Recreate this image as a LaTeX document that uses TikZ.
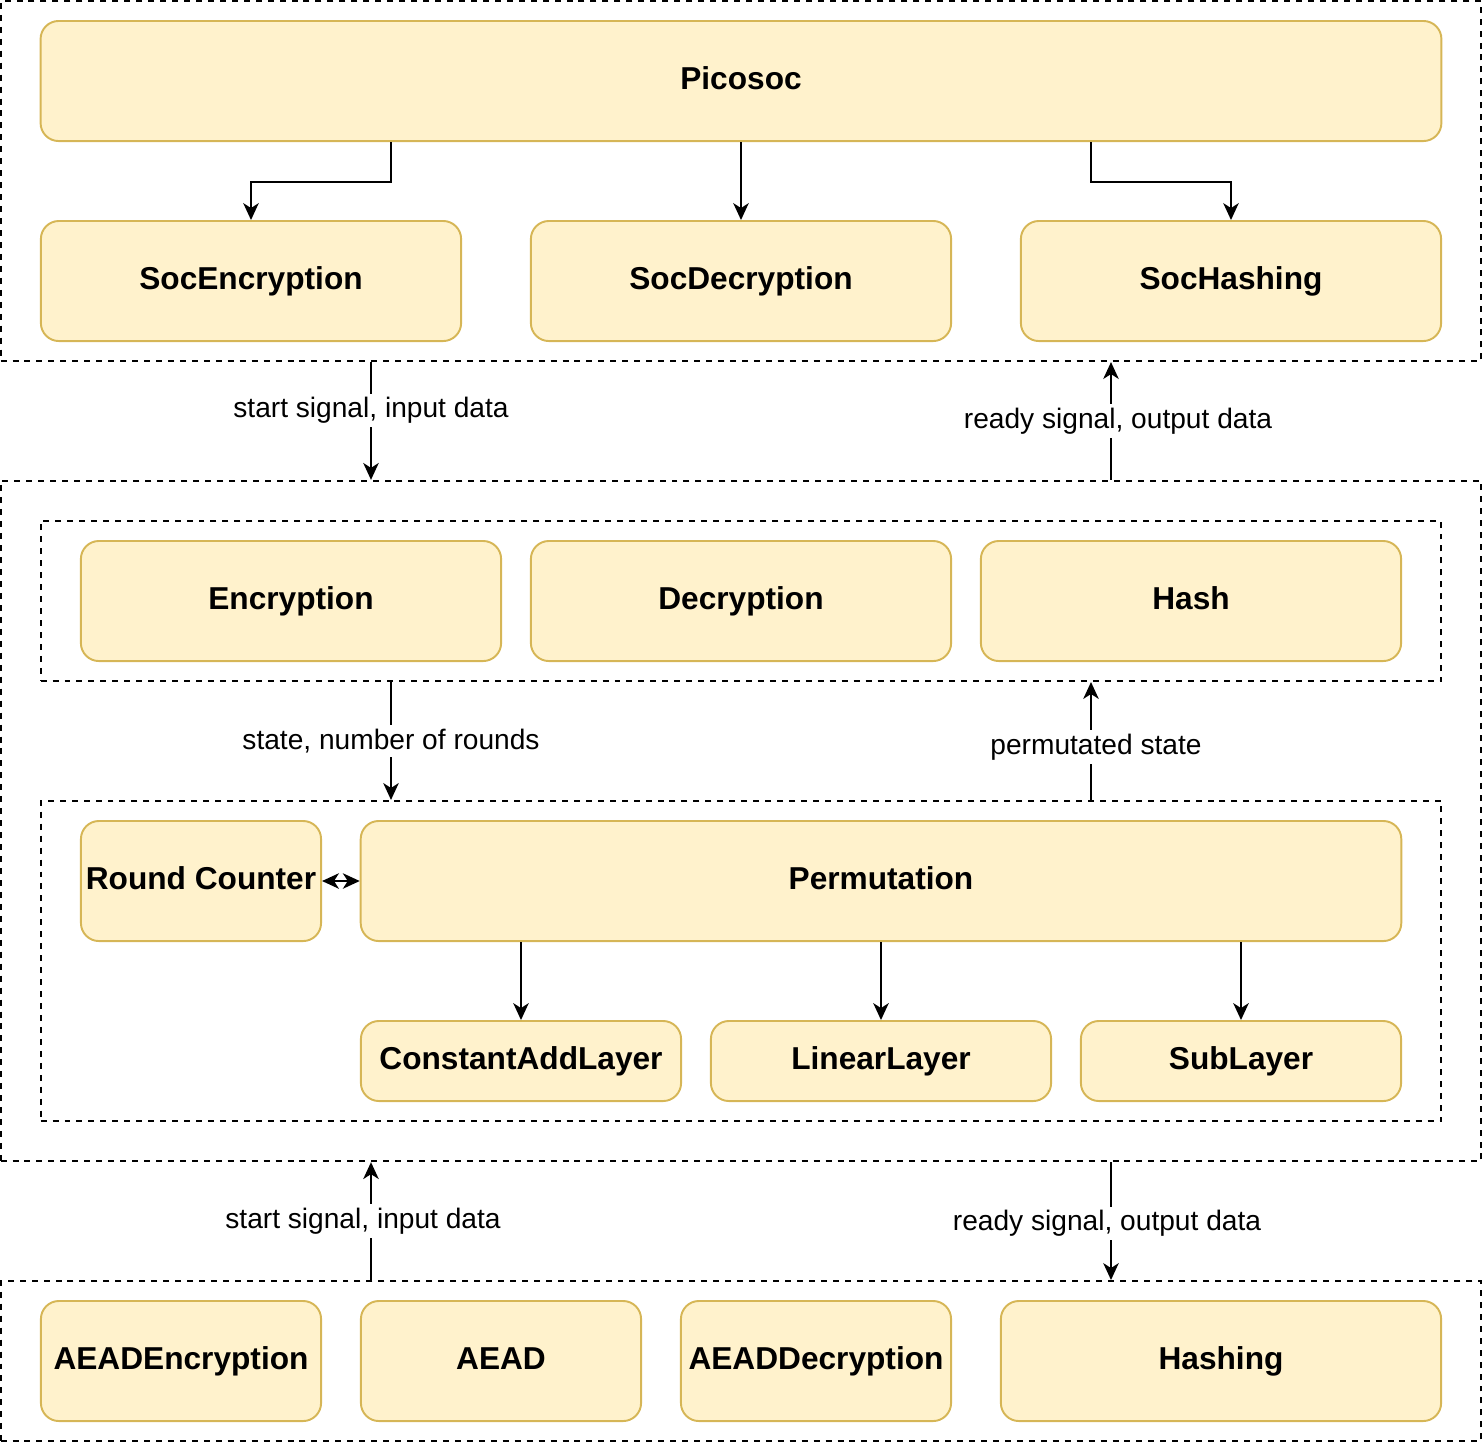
\documentclass[tikz,border=0pt]{standalone}
\usepackage{fontspec}
\setmainfont{Liberation Sans}
\usetikzlibrary{arrows.meta,positioning}
\definecolor{boxfill}{HTML}{FFF2CC}
\definecolor{boxline}{HTML}{D6B656}
\tikzset{
  blk/.style={
    draw = boxline,
    fill = boxfill,
    line width = 0.55pt,
    rounded corners = 0.18cm,
    inner sep = 0pt,
    minimum height = 1.2cm,
    text height = 0.72em,
    text depth = 0.21em,
    font = \bfseries\fontsize{9}{11}\selectfont
  },
  frm/.style={
    draw,
    line width = 0.55pt,
    dash pattern = on 1.7pt off 1.7pt,
    inner sep = 0pt
  },
  arr/.style={
    line width = 0.55pt,
    -{Stealth[length=4.8pt,width=4.4pt,inset=1.4pt]}
  },
  lbl/.style={
    fill = white,
    inner sep = 1pt,
    font = \fontsize{8}{10}\selectfont
  },
}
\begin{document}
\begin{tikzpicture}[x=0.01cm, y=-0.01cm]
 \useasboundingbox (0,0) rectangle (1484,1444);
 % dashed groups
 \node[frm, minimum width=14.8cm, minimum height=3.6cm] (socframe) at (741,181) {};
 \node[frm, minimum width=14.8cm, minimum height=6.8cm] (coreframe) at (741,821) {};
 \node[frm, minimum width=14cm, minimum height=1.6cm] (modeframe) at (741,601) {};
 \node[frm, minimum width=14cm, minimum height=3.2cm] (permframe) at (741,961) {};
 \node[frm, minimum width=14.8cm, minimum height=1.6cm] (aeadframe) at (741,1361) {};
 % soc
 \node[blk, minimum width=14cm] (pico) at (741,81) {Picosoc};
 \node[blk, minimum width=4.2cm] (socenc) at (251,281) {SocEncryption};
 \node[blk, minimum width=4.2cm] (socdec) at (741,281) {SocDecryption};
 \node[blk, minimum width=4.2cm] (sochash) at (1231,281) {SocHashing};
 % modes
 \node[blk, minimum width=4.2cm] (enc) at (291,601) {Encryption};
 \node[blk, minimum width=4.2cm] (dec) at (741,601) {Decryption};
 \node[blk, minimum width=4.2cm] (hash) at (1191,601) {Hash};
 % permutation
 \node[blk, minimum width=2.4cm] (rc) at (201,881) {Round Counter};
 \node[blk, minimum width=10.4cm] (perm) at (881,881) {Permutation};
 \node[blk, minimum width=3.2cm, minimum height=0.8cm] (cal) at (521,1061) {ConstantAddLayer};
 \node[blk, minimum width=3.4cm, minimum height=0.8cm] (lin) at (881,1061) {LinearLayer};
 \node[blk, minimum width=3.2cm, minimum height=0.8cm] (sub) at (1241,1061) {SubLayer};
 % aead
 \node[blk, minimum width=2.8cm] (aeadenc) at (181,1361) {AEADEncryption};
 \node[blk, minimum width=2.8cm] (aead) at (501,1361) {AEAD};
 \node[blk, minimum width=2.7cm] (aeaddec) at (816,1361) {AEADDecryption};
 \node[blk, minimum width=4.4cm] (hashing) at (1221,1361) {Hashing};

 \coordinate (reqx) at (371,0);
 \coordinate (ackx) at (1111,0);
 \coordinate (stx) at (391,0);
 \coordinate (psx) at (1091,0);

 \draw[arr] ([xshift=-3.5cm]pico.south) -- ++(0,40) -| (socenc.north);
 \draw[arr] (pico.south) -- (socdec.north);
 \draw[arr] ([xshift=3.5cm]pico.south) -- ++(0,40) -| (sochash.north);

 \draw[arr] (socframe.south -| reqx) -- node[lbl, pos=0.41] {start signal, input data} (coreframe.north -| reqx);
 \draw[arr] (coreframe.north -| ackx) -- node[lbl, pos=0.5, xshift=0.07cm] {ready signal, output data} (socframe.south -| ackx);

 \draw[arr] (modeframe.south -| stx) -- node[lbl, pos=0.5] {state, number of rounds} (permframe.north -| stx);
 \draw[arr] (permframe.north -| psx) -- node[lbl, pos=0.45, xshift=0.05cm] {permutated state} (modeframe.south -| psx);

 \draw[line width=0.55pt, {Stealth[length=4.8pt,width=4.4pt,inset=1.4pt]}-{Stealth[length=4.8pt,width=4.4pt,inset=1.4pt]}] (rc.east) -- (perm.west);
 \foreach \n in {cal,lin,sub}{
   \draw[arr] (perm.south -| \n.north) -- (\n.north);}

 \draw[arr] (aeadframe.north -| reqx) -- node[lbl, pos=0.5, xshift=-0.08cm] {start signal, input data} (coreframe.south -| reqx);
 \draw[arr] (coreframe.south -| ackx) -- node[lbl, pos=0.52, xshift=-0.04cm] {ready signal, output data} (aeadframe.north -| ackx);
\end{tikzpicture}
\end{document}
